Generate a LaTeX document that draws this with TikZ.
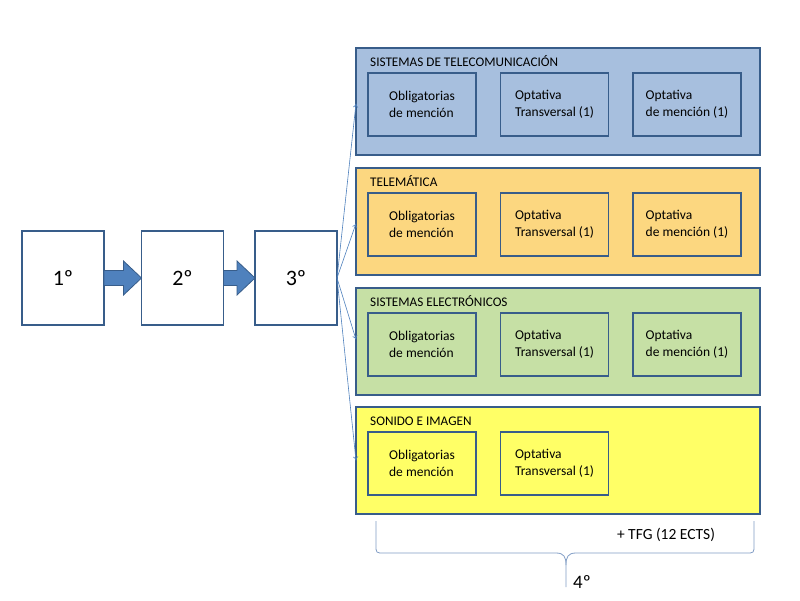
\documentclass[tikz,border=0pt]{standalone}
\usepackage{fontspec}
\setmainfont{Carlito}
\usetikzlibrary{arrows.meta}
\definecolor{bordc}{RGB}{56,93,138}
\definecolor{arrc}{RGB}{79,129,189}
\definecolor{bluef}{RGB}{167,191,222}
\definecolor{orangef}{RGB}{252,215,128}
\definecolor{greenf}{RGB}{198,224,165}
\definecolor{yellowf}{RGB}{255,255,102}
\definecolor{bracec}{RGB}{130,158,198}
\tikzset{
  yearbox/.style={draw=bordc, line width=1.5pt, fill=white, minimum width=82pt, minimum height=94pt, inner sep=0pt, outer sep=0pt, font=\fontsize{22}{26}\selectfont},
  panel/.style={draw=bordc, line width=1.5pt, minimum width=404pt, minimum height=107pt, inner sep=0pt, outer sep=0pt},
  subbox/.style={draw=bordc, line width=1.5pt, minimum width=108pt, minimum height=63pt, inner sep=0pt, outer sep=0pt, align=left, font=\fontsize{13.5}{17}\selectfont},
  ptitle/.style={anchor=base west, inner sep=0pt, font=\fontsize{13.2}{15}\selectfont},
  blockarrow/.style={draw=bordc, line width=0.8pt, fill=arrc},
  thinarrow/.style={draw=arrc, line width=0.6pt, -{To[length=4pt,width=5pt]}},
}
\begin{document}
\begin{tikzpicture}[x=1pt,y=-1pt]
\useasboundingbox[fill=white] (0,0) rectangle (800,600);
% year boxes
\node[yearbox] (b1) at (63,278) {1º};
\node[yearbox] (b2) at (182.5,278) {2º};
\node[yearbox] (b3) at (296,278) {3º};
% block arrows
\draw[blockarrow] ([yshift=7.5pt]b1.east) -- ([xshift=-18pt,yshift=7.5pt]b2.west) -- ([xshift=-18pt,yshift=17pt]b2.west) -- (b2.west) -- ([xshift=-18pt,yshift=-17pt]b2.west) -- ([xshift=-18pt,yshift=-7.5pt]b2.west) -- ([yshift=-7.5pt]b1.east) -- cycle;
\draw[blockarrow] ([yshift=7.5pt]b2.east) -- ([xshift=-18pt,yshift=7.5pt]b3.west) -- ([xshift=-18pt,yshift=17pt]b3.west) -- (b3.west) -- ([xshift=-18pt,yshift=-17pt]b3.west) -- ([xshift=-18pt,yshift=-7.5pt]b3.west) -- ([yshift=-7.5pt]b2.east) -- cycle;
% panels
\node[panel, fill=bluef] (p1) at (558,101.5) {};
\node[panel, fill=orangef] (p2) at (558,221.5) {};
\node[panel, fill=greenf] (p3) at (558,341.5) {};
\node[panel, fill=yellowf] (p4) at (558,460.5) {};
% titles
\node[ptitle] (t1) at (370,66) {SISTEMAS DE TELECOMUNICACIÓN};
\node[ptitle] (t2) at (370,186) {TELEMÁTICA};
\node[ptitle] (t3) at (370,306) {SISTEMAS ELECTRÓNICOS};
\node[ptitle] (t4) at (370,425) {SONIDO E IMAGEN};
% sub boxes
\node[subbox] (s11) at (422,104.5) {Obligatorias\\de mención};
\node[subbox] (s12) at (554.5,104.5) {Optativa\\Transversal (1)};
\node[subbox] (s13) at (687,104.5) {Optativa\\de mención (1)};
\node[subbox] (s21) at (422,224.5) {Obligatorias\\de mención};
\node[subbox] (s22) at (554.5,224.5) {Optativa\\Transversal (1)};
\node[subbox] (s23) at (687,224.5) {Optativa\\de mención (1)};
\node[subbox] (s31) at (422,344.5) {Obligatorias\\de mención};
\node[subbox] (s32) at (554.5,344.5) {Optativa\\Transversal (1)};
\node[subbox] (s33) at (687,344.5) {Optativa\\de mención (1)};
\node[subbox] (s41) at (422,463.5) {Obligatorias\\de mención};
\node[subbox] (s42) at (554.5,463.5) {Optativa\\Transversal (1)};
% thin arrows
\draw[thinarrow] (b3.east) -- ([yshift=-2pt]p1.west);
\draw[thinarrow] (b3.east) -- ([yshift=-2pt]p2.west);
\draw[thinarrow] (b3.east) -- ([yshift=2pt]p3.west);
\draw[thinarrow] (b3.east) -- (p4.west);
% brace
\coordinate (bl) at (376,521);
\coordinate (br) at (754,521);
\coordinate (bt) at (566,587);
\draw[bracec, line width=0.8pt] (bl) -- (376,545) .. controls (376,553) .. (384,553) -- (556,553) .. controls (564,553) and (566,557) .. (566,565) -- (bt);
\draw[bracec, line width=0.8pt] (br) -- (754,545) .. controls (754,553) .. (746,553) -- (576,553) .. controls (568,553) and (566,557) .. (566,565);
\node[inner sep=0pt, font=\fontsize{15.5}{18}\selectfont] (tfg) at (666,535) {+ TFG (12 ECTS)};
\node[inner sep=0pt, font=\fontsize{19}{22}\selectfont] (y4) at (582,582) {4º};
\end{tikzpicture}
\end{document}
